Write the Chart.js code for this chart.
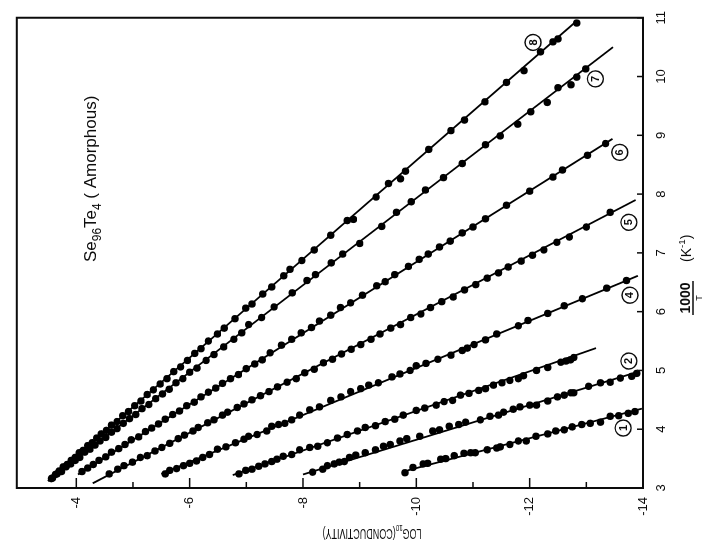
<!DOCTYPE html>
<html>
<head>
<meta charset="utf-8">
<script src="https://cdn.jsdelivr.net/npm/chart.js@4.4.1/dist/chart.umd.min.js"></script>
<style>
	html, body { margin: 0; padding: 0; background: #fff; }
	.page { position: relative; width: 703px; height: 557px; overflow: hidden; background: #fff; }
	/* the figure is printed turned a quarter turn, so the chart is drawn upright and turned */
	#plot { position: absolute; left: 0; top: 0; transform-origin: 0 0; transform: translate(0px, 557px) rotate(-90deg); }
</style>
</head>
<body>
<div class="page"><canvas id="plot" width="557" height="703"></canvas></div>
<script>
// 1000/T (K^-1) and log10(conductivity) for each curve
const invT1 = [3.26, 3.35, 3.41, 3.42, 3.49, 3.50, 3.55, 3.59, 3.60, 3.60, 3.65, 3.68, 3.70, 3.74, 3.80, 3.80, 3.88, 3.92, 3.97, 3.99, 4.04, 4.08, 4.10, 4.12, 4.22, 4.23, 4.27, 4.30]
const logCond1 = [-9.80, -9.94, -10.12, -10.20, -10.43, -10.52, -10.67, -10.84, -10.96, -11.04, -11.25, -11.42, -11.48, -11.65, -11.80, -11.94, -12.11, -12.32, -12.46, -12.61, -12.75, -12.92, -13.07, -13.25, -13.42, -13.57, -13.74, -13.86]

const invT2 = [3.27, 3.32, 3.38, 3.41, 3.44, 3.45, 3.52, 3.56, 3.60, 3.65, 3.71, 3.74, 3.80, 3.84, 3.88, 3.97, 3.99, 4.05, 4.08, 4.12, 4.16, 4.22, 4.24, 4.29, 4.34, 4.38, 4.41, 4.41, 4.48, 4.55, 4.58, 4.62, 4.62, 4.73, 4.79, 4.80, 4.87, 4.90, 4.95]
const logCond2 = [-8.17, -8.35, -8.43, -8.55, -8.64, -8.73, -8.82, -8.93, -9.10, -9.28, -9.42, -9.54, -9.71, -9.83, -10.06, -10.29, -10.41, -10.58, -10.75, -10.87, -11.13, -11.30, -11.45, -11.54, -11.71, -11.83, -12.00, -12.12, -12.32, -12.49, -12.61, -12.73, -12.78, -13.04, -13.25, -13.42, -13.60, -13.80, -13.89]

const invT3 = [3.24, 3.30, 3.32, 3.37, 3.41, 3.45, 3.49, 3.54, 3.57, 3.65, 3.69, 3.71, 3.77, 3.85, 3.91, 3.97, 4.03, 4.06, 4.13, 4.17, 4.24, 4.32, 4.36, 4.41, 4.47, 4.49, 4.58, 4.61, 4.66, 4.69, 4.75, 4.79, 4.83, 4.86, 4.91, 5.00, 5.05, 5.14, 5.16, 5.18, 5.22]
const logCond3 = [-6.87, -6.99, -7.10, -7.22, -7.33, -7.45, -7.54, -7.65, -7.80, -7.94, -8.12, -8.26, -8.43, -8.61, -8.78, -8.96, -9.10, -9.28, -9.45, -9.62, -9.77, -10.00, -10.15, -10.35, -10.49, -10.64, -10.78, -10.93, -11.10, -11.22, -11.36, -11.51, -11.65, -11.80, -11.89, -12.12, -12.32, -12.55, -12.64, -12.72, -12.78]

const invT4 = [3.24, 3.30, 3.33, 3.38, 3.42, 3.46, 3.52, 3.57, 3.66, 3.70, 3.77, 3.83, 3.88, 3.91, 3.97, 4.05, 4.08, 4.10, 4.16, 4.24, 4.33, 4.38, 4.49, 4.55, 4.64, 4.69, 4.75, 4.79, 4.89, 4.94, 5.00, 5.08, 5.12, 5.19, 5.26, 5.34, 5.38, 5.44, 5.52, 5.62, 5.76, 5.85, 5.97, 6.10, 6.22, 6.40, 6.53]
const logCond4 = [-5.57, -5.65, -5.77, -5.89, -6.00, -6.12, -6.23, -6.35, -6.49, -6.64, -6.81, -6.96, -7.04, -7.19, -7.36, -7.45, -7.57, -7.68, -7.80, -7.94, -8.12, -8.29, -8.49, -8.67, -8.84, -9.02, -9.16, -9.33, -9.57, -9.71, -9.89, -10.00, -10.17, -10.38, -10.61, -10.81, -10.90, -11.02, -11.22, -11.42, -11.80, -11.97, -12.32, -12.61, -12.93, -13.36, -13.71]

const invT5 = [3.24, 3.32, 3.38, 3.44, 3.52, 3.55, 3.63, 3.69, 3.76, 3.84, 3.90, 3.97, 4.03, 4.11, 4.16, 4.24, 4.29, 4.37, 4.43, 4.50, 4.57, 4.64, 4.72, 4.80, 4.86, 4.96, 5.02, 5.13, 5.19, 5.28, 5.36, 5.44, 5.53, 5.62, 5.72, 5.78, 5.90, 5.96, 6.07, 6.17, 6.25, 6.37, 6.46, 6.57, 6.66, 6.76, 6.86, 6.96, 7.05, 7.18, 7.27, 7.44, 7.69]
const logCond5 = [-4.58, -4.73, -4.84, -4.99, -5.13, -5.25, -5.39, -5.51, -5.65, -5.80, -5.91, -6.06, -6.15, -6.32, -6.43, -6.58, -6.67, -6.84, -6.96, -7.10, -7.25, -7.40, -7.55, -7.72, -7.88, -8.03, -8.20, -8.36, -8.52, -8.68, -8.85, -9.02, -9.20, -9.36, -9.55, -9.72, -9.90, -10.08, -10.25, -10.45, -10.65, -10.85, -11.05, -11.25, -11.45, -11.62, -11.85, -12.05, -12.25, -12.48, -12.70, -13.00, -13.42]

const invT6 = [3.28, 3.34, 3.40, 3.47, 3.53, 3.61, 3.67, 3.74, 3.82, 3.87, 3.96, 4.02, 4.09, 4.17, 4.25, 4.31, 4.40, 4.46, 4.55, 4.63, 4.70, 4.78, 4.86, 4.93, 5.03, 5.11, 5.18, 5.30, 5.43, 5.53, 5.64, 5.73, 5.84, 5.94, 6.07, 6.15, 6.28, 6.44, 6.51, 6.63, 6.77, 6.89, 6.98, 7.10, 7.20, 7.34, 7.44, 7.58, 7.81, 8.05, 8.29, 8.41, 8.66, 8.86]
const logCond6 = [-4.10, -4.20, -4.30, -4.40, -4.52, -4.62, -4.75, -4.86, -4.97, -5.10, -5.22, -5.33, -5.45, -5.57, -5.70, -5.82, -5.95, -6.08, -6.20, -6.33, -6.46, -6.58, -6.72, -6.86, -7.00, -7.15, -7.28, -7.42, -7.62, -7.80, -7.97, -8.15, -8.29, -8.49, -8.66, -8.84, -9.05, -9.30, -9.45, -9.62, -9.86, -10.05, -10.21, -10.41, -10.60, -10.81, -11.00, -11.22, -11.59, -12.00, -12.41, -12.58, -13.02, -13.34]

const invT7 = [3.17, 3.24, 3.28, 3.36, 3.41, 3.47, 3.52, 3.61, 3.66, 3.73, 3.80, 3.86, 3.95, 4.01, 4.10, 4.18, 4.25, 4.35, 4.42, 4.52, 4.60, 4.68, 4.79, 4.86, 4.97, 5.04, 5.17, 5.27, 5.40, 5.53, 5.64, 5.78, 5.90, 6.08, 6.32, 6.53, 6.63, 6.83, 6.98, 7.16, 7.45, 7.69, 7.87, 8.07, 8.28, 8.52, 8.84, 8.99, 9.19, 9.40, 9.56, 9.81, 9.86, 9.99, 10.13]
const logCond7 = [-3.58, -3.66, -3.74, -3.82, -3.90, -3.98, -4.06, -4.15, -4.24, -4.33, -4.42, -4.52, -4.62, -4.72, -4.83, -4.94, -5.05, -5.16, -5.28, -5.40, -5.52, -5.64, -5.76, -5.88, -6.00, -6.13, -6.29, -6.43, -6.60, -6.78, -6.92, -7.04, -7.27, -7.49, -7.81, -8.07, -8.22, -8.50, -8.70, -9.00, -9.39, -9.65, -9.91, -10.16, -10.48, -10.81, -11.22, -11.48, -11.79, -12.02, -12.31, -12.50, -12.73, -12.83, -12.99]

const invT8 = [3.16, 3.23, 3.29, 3.36, 3.40, 3.47, 3.52, 3.60, 3.64, 3.72, 3.77, 3.85, 3.92, 3.98, 4.07, 4.13, 4.23, 4.30, 4.40, 4.48, 4.59, 4.67, 4.77, 4.86, 4.98, 5.06, 5.17, 5.29, 5.37, 5.50, 5.62, 5.72, 5.88, 6.06, 6.13, 6.30, 6.42, 6.61, 6.72, 6.87, 7.05, 7.30, 7.55, 7.57, 7.95, 8.18, 8.26, 8.39, 8.76, 9.08, 9.26, 9.57, 9.90, 10.10, 10.42, 10.59, 10.64, 10.91]
const logCond8 = [-3.56, -3.63, -3.70, -3.77, -3.84, -3.91, -3.98, -4.05, -4.12, -4.20, -4.28, -4.36, -4.44, -4.53, -4.62, -4.72, -4.82, -4.92, -5.03, -5.14, -5.25, -5.36, -5.48, -5.60, -5.72, -5.84, -5.96, -6.09, -6.20, -6.33, -6.49, -6.61, -6.80, -6.99, -7.10, -7.29, -7.45, -7.66, -7.77, -7.98, -8.20, -8.49, -8.78, -8.89, -9.29, -9.51, -9.72, -9.81, -10.22, -10.61, -10.85, -11.21, -11.59, -11.90, -12.19, -12.41, -12.50, -12.83]

// straight fitted lines, curve 1..8
const fitInvTStart = [3.30, 3.23, 3.22, 3.24, 3.08, 3.23, 3.12, 3.12]
const fitLogStart = [-9.85, -8.00, -6.76, -5.50, -4.29, -4.03, -3.50, -3.50]
const fitInvTEnd = [4.35, 4.97, 5.38, 6.61, 7.90, 8.94, 10.50, 10.93]
const fitLogEnd = [-13.98, -13.89, -13.17, -13.91, -13.87, -13.46, -13.47, -12.81]

// circled curve numbers
const curveTags = ["1", "2", "4", "5", "6", "7", "8"]
const tagInvT = [4.02, 5.16, 6.28, 7.52, 8.71, 9.96, 10.58]
const tagLog = [-13.65, -13.75, -13.77, -13.75, -13.59, -13.16, -12.06]

const xTicks = [3, 4, 5, 6, 7, 8, 9, 10, 11]
const yMajor = [-4, -6, -8, -10, -12, -14]
const yMinor = [-5, -7, -9, -11, -13]

const FONT = '"Liberation Sans", Arial, sans-serif'
const INK = "#0c0c0c"

const seriesInvT = [invT1, invT2, invT3, invT4, invT5, invT6, invT7, invT8]
const seriesLog = [logCond1, logCond2, logCond3, logCond4, logCond5, logCond6, logCond7, logCond8]

function toPoints(xs, ys) {
	return xs.map((v, i) => ({ x: v, y: ys[i] }))
}

// draws text made of pieces, some lowered or raised
function richText(ctx, parts, x, y, size, weight) {
	let cx = x
	parts.forEach(p => {
		const s = p.sub || p.sup ? size * 0.7 : size
		ctx.font = `${weight || ""} ${s}px ${FONT}`
		const dy = p.sub ? size * 0.3 : (p.sup ? -size * 0.4 : 0)
		ctx.fillText(p.t, cx, y + dy)
		cx += ctx.measureText(p.t).width
	})
	return cx - x
}

const paperPlugin = {
	id: "paper",
	afterDraw(chart) {
		const { ctx, chartArea: a, scales: { x, y } } = chart
		ctx.save()
		ctx.strokeStyle = INK
		ctx.fillStyle = INK
		ctx.lineWidth = 2
		ctx.strokeRect(a.left, a.top, a.right - a.left, a.bottom - a.top)

		// inward ticks
		ctx.lineWidth = 1.5
		const tick = (x1, y1, x2, y2) => {
			ctx.beginPath(); ctx.moveTo(x1, y1); ctx.lineTo(x2, y2); ctx.stroke()
		}
		yMajor.forEach(v => { const p = y.getPixelForValue(v); tick(a.left, p, a.left + 10, p) })
		yMinor.forEach(v => { const p = y.getPixelForValue(v); tick(a.left, p, a.left + 6, p) })
		xTicks.forEach(v => { const p = x.getPixelForValue(v); tick(p, a.bottom, p, a.bottom - 6) })

		// circled numbers
		ctx.lineWidth = 1.4
		ctx.textAlign = "center"
		ctx.textBaseline = "middle"
		ctx.font = `bold 11px ${FONT}`
		curveTags.forEach((t, i) => {
			const px = x.getPixelForValue(tagInvT[i])
			const py = y.getPixelForValue(tagLog[i])
			ctx.fillStyle = "#fff"
			ctx.beginPath(); ctx.arc(px, py, 8, 0, Math.PI * 2); ctx.fill(); ctx.stroke()
			ctx.fillStyle = INK
			ctx.fillText(t, px, py + 0.5)
		})

		// sample name
		ctx.textAlign = "left"
		ctx.textBaseline = "alphabetic"
		richText(ctx, [{ t: "Se" }, { t: "96", sub: true }, { t: "Te" }, { t: "4", sub: true }, { t: " ( Amorphous)" }], a.left + 226, 96, 17)

		// x title: 1000 over T, then (K^-1)
		const fx = a.left + 190
		ctx.textAlign = "center"
		ctx.font = `bold 14px ${FONT}`
		ctx.fillText("1000", fx, 690)
		tick(fx - 17, 693, fx + 17, 693)
		ctx.font = `9px ${FONT}`
		ctx.fillText("T", fx, 702)
		ctx.textAlign = "left"
		richText(ctx, [{ t: "(K" }, { t: "-1", sup: true }, { t: ")" }], a.left + 226, 691, 14)

		// y title, reading upward
		ctx.save()
		ctx.translate(28, 372)
		ctx.rotate(-Math.PI / 2)
		ctx.textAlign = "left"
		const parts = [{ t: "LOG" }, { t: "10", sub: true }, { t: "(CONDUCTIVITY)" }]
		ctx.scale(0.64, 1)
		ctx.font = `14px ${FONT}`
		const w = ["LOG", "(CONDUCTIVITY)"].reduce((s, t) => s + ctx.measureText(t).width, 0) + 11
		richText(ctx, parts, -w / 2, 0, 14)
		ctx.restore()

		ctx.restore()
	}
}

function createPlot(place) {
	const datasets = []
	seriesInvT.forEach((xs, i) => {
		datasets.push({
			label: "curve " + (i + 1),
			data: toPoints(xs, seriesLog[i]),
			showLine: false,
			pointRadius: 3.7,
			pointBackgroundColor: "#000",
			pointBorderWidth: 0,
		})
	})
	fitInvTStart.forEach((v, i) => {
		datasets.push({
			label: "fit " + (i + 1),
			data: [{ x: v, y: fitLogStart[i] }, { x: fitInvTEnd[i], y: fitLogEnd[i] }],
			showLine: true,
			borderColor: "#000",
			borderWidth: 1.8,
			pointRadius: 0,
		})
	})

	return new Chart(place.getContext("2d"), {
		type: "scatter",
		data: { datasets: datasets },
		options: {
			responsive: false,
			animation: false,
			events: [],
			layout: { padding: { top: 8, right: 8, left: 0, bottom: 0 } },
			plugins: { legend: { display: false }, tooltip: { enabled: false } },
			scales: {
				x: {
					type: "linear",
					min: 3,
					max: 11,
					afterBuildTicks: s => { s.ticks = xTicks.map(v => ({ value: v })) },
					afterFit: s => { s.height = 60 },
					grid: { display: false, drawTicks: false },
					border: { display: false },
					ticks: { color: INK, padding: 11, maxRotation: 0, autoSkip: false, font: { family: FONT, size: 13 } },
				},
				y: {
					type: "linear",
					min: -14,
					max: -2.95,
					afterBuildTicks: s => { s.ticks = yMajor.map(v => ({ value: v })) },
					afterFit: s => { s.width = 69 },
					grid: { display: false, drawTicks: false },
					border: { display: false },
					ticks: { color: INK, padding: 9, autoSkip: false, font: { family: FONT, size: 13 } },
				},
			},
		},
		plugins: [paperPlugin],
	})
}

createPlot(document.getElementById("plot"))
</script>
</body>
</html>
